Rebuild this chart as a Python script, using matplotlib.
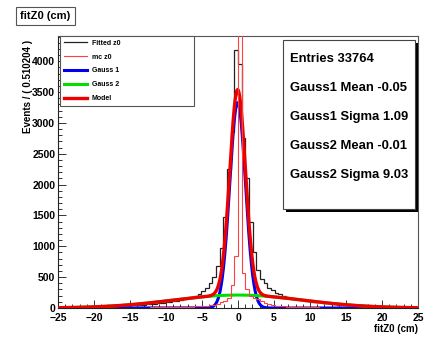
import numpy as np
import matplotlib
matplotlib.use('Agg')
import matplotlib.pyplot as plt
from matplotlib import font_manager
from matplotlib.patches import Rectangle

# binning of the RooFit frame: 98 bins from -25 to 25 (width 0.510204)
x_lo, x_hi, n_bins = -25.0, 25.0, 98

# "Fitted z0" histogram, bin contents
fitted_z0 = [8, 10, 9, 12, 11, 13, 14, 12, 15, 17,
             18, 20, 22, 21, 25, 27, 30, 32, 35, 38,
             42, 46, 50, 55, 60, 66, 72, 80, 88, 96,
             105, 112, 120, 130, 140, 155, 175, 200, 235, 280,
             330, 400, 500, 680, 980, 1480, 2250, 2860, 4180, 3950,
             2750, 2100, 1400, 900, 620, 470, 400, 330, 290, 250,
             220, 200, 180, 165, 150, 140, 130, 120, 112, 105,
             97, 90, 82, 75, 68, 60, 54, 48, 43, 38,
             34, 30, 27, 24, 22, 20, 18, 16, 14, 13,
             12, 11, 10, 9, 9, 8, 8, 7]

# "mc z0" histogram (very narrow, central bin goes off scale)
mc_z0 = [2, 2, 2, 2, 2, 3, 3, 3, 3, 3,
         3, 4, 4, 4, 4, 5, 5, 5, 6, 6,
         6, 7, 7, 8, 8, 9, 10, 10, 11, 12,
         13, 14, 15, 16, 18, 20, 22, 25, 28, 32,
         38, 45, 55, 70, 90, 120, 160, 380, 850, 20000,
         560, 300, 200, 170, 140, 110, 85, 65, 50, 40,
         33, 28, 24, 21, 18, 16, 14, 12, 11, 10,
         9, 8, 8, 7, 7, 6, 6, 5, 5, 5,
         4, 4, 4, 4, 3, 3, 3, 3, 3, 2,
         2, 2, 2, 2, 2, 2, 2, 2]

# fit result (stat box) and curve heights
entries = 33764
g1_mean, g1_sigma, g1_amp = -0.05, 1.09, 3330
g2_mean, g2_sigma, g2_amp = -0.01, 9.03, 210

names = [f.name for f in font_manager.fontManager.ttflist]
narrow = 'Liberation Sans Narrow' in names
plt.rcParams['font.family'] = ['Liberation Sans', 'DejaVu Sans']
plt.rcParams['font.weight'] = 'bold'

W, H = 428, 337
fig = plt.figure(figsize=(W / 100, H / 100), dpi=100)


def fx(p):
    return p / W


def fy(p):
    return 1 - p / H


ax = fig.add_axes([fx(58), fy(308), fx(418) - fx(58), fy(36) - fy(308)])
aw = 360.0  # axes width in px

edges = np.linspace(x_lo, x_hi, n_bins + 1)
xs = np.linspace(x_lo, x_hi, 1500)
g1 = g1_amp * np.exp(-0.5 * ((xs - g1_mean) / g1_sigma) ** 2)
g2 = g2_amp * np.exp(-0.5 * ((xs - g2_mean) / g2_sigma) ** 2)

h_fit = ax.stairs(fitted_z0, edges, color='#222222', lw=0.9, label='Fitted z0', zorder=2)
l_g1, = ax.plot(xs, g1, color='#0000ee', lw=2.2, label='Gauss 1', zorder=3)
l_g2, = ax.plot(xs, g2, color='#00e000', lw=2.2, label='Gauss 2', zorder=3)
l_mod, = ax.plot(xs, g1 + g2, color='#ee0000', lw=2.4, label='Model', zorder=4)
h_mc = ax.stairs(mc_z0, edges, color='#ff4040', lw=0.8, label='mc z0', zorder=5)

ax.set_xlim(x_lo, x_hi)
ax.set_ylim(0, 4410)
ax.set_xticks(np.arange(-25, 26, 5))
ax.set_xticks(np.arange(-25, 26, 1), minor=True)
ax.set_yticks(np.arange(0, 4001, 500))
ax.set_yticks(np.arange(0, 4401, 100), minor=True)
ax.tick_params(which='both', direction='in', top=False, right=False,
               labelsize=7.5, width=0.7, color='#333333')
ax.tick_params(axis='y', pad=2)
ax.tick_params(axis='x', pad=3.5)
ax.tick_params(which='major', length=6)
ax.tick_params(which='minor', length=3)
for lab in ax.get_xticklabels() + ax.get_yticklabels():
    lab.set_fontweight('bold')
for s in ax.spines.values():
    s.set_linewidth(0.8)
    s.set_color('#555555')
ax.spines['left'].set_color('#222222')
ax.spines['bottom'].set_color('#222222')

ax.set_ylabel('Events / ( 0.510204 )', fontsize=7, fontweight='bold')
ax.yaxis.set_label_coords((33 - 58) / aw, (308 - 86) / 272.0)
fig.text(fx(418), fy(329), 'fitZ0 (cm)', ha='right', va='center', fontsize=7, fontweight='bold')

# legend top-left
leg = ax.legend(handles=[h_fit, h_mc, l_g1, l_g2, l_mod],
                labels=['Fitted z0', 'mc z0', 'Gauss 1', 'Gauss 2', 'Model'],
                loc='upper left', bbox_to_anchor=((60 - 58) / aw, 1.0, (194 - 60) / aw, 0),
                mode='expand', borderaxespad=0, fontsize=5, handlelength=3.3,
                handletextpad=0.7, labelspacing=0.98, borderpad=0.55,
                fancybox=False, edgecolor='#555555', framealpha=1)
leg.get_frame().set_linewidth(0.8)

# stat box with shadow
sx0, sx1, sy0, sy1 = 283, 415, 40, 209
fig.patches.append(Rectangle((fx(sx0 + 3), fy(sy1 + 3)), fx(sx1) - fx(sx0), fy(sy0) - fy(sy1),
                             transform=fig.transFigure, facecolor='black', edgecolor='none', zorder=10))
fig.patches.append(Rectangle((fx(sx0), fy(sy1)), fx(sx1) - fx(sx0), fy(sy0) - fy(sy1),
                             transform=fig.transFigure, facecolor='white', edgecolor='#444444',
                             lw=0.8, zorder=11))
stat_lines = ['Entries %d' % entries,
              'Gauss1 Mean %.2f' % g1_mean,
              'Gauss1 Sigma %.2f' % g1_sigma,
              'Gauss2 Mean %.2f' % g2_mean,
              'Gauss2 Sigma %.2f' % g2_sigma]
stat_y = [59, 88, 117, 146, 175]
if narrow:
    sfam, ssize = ['Liberation Sans Narrow', 'DejaVu Sans'], 11.3
else:
    sfam, ssize = ['Liberation Sans', 'DejaVu Sans'], 9.4
for t, yy in zip(stat_lines, stat_y):
    fig.text(fx(290), fy(yy), t, ha='left', va='center', fontsize=ssize,
             fontweight='bold', family=sfam, zorder=12)

# title box
fig.text(fx(45.5), fy(16), 'fitZ0 (cm)', ha='center', va='center', fontsize=8, fontweight='bold',
         bbox=dict(boxstyle='square,pad=0.35', facecolor='white', edgecolor='#555555', lw=0.8))

fig.savefig('out.png', dpi=100)
